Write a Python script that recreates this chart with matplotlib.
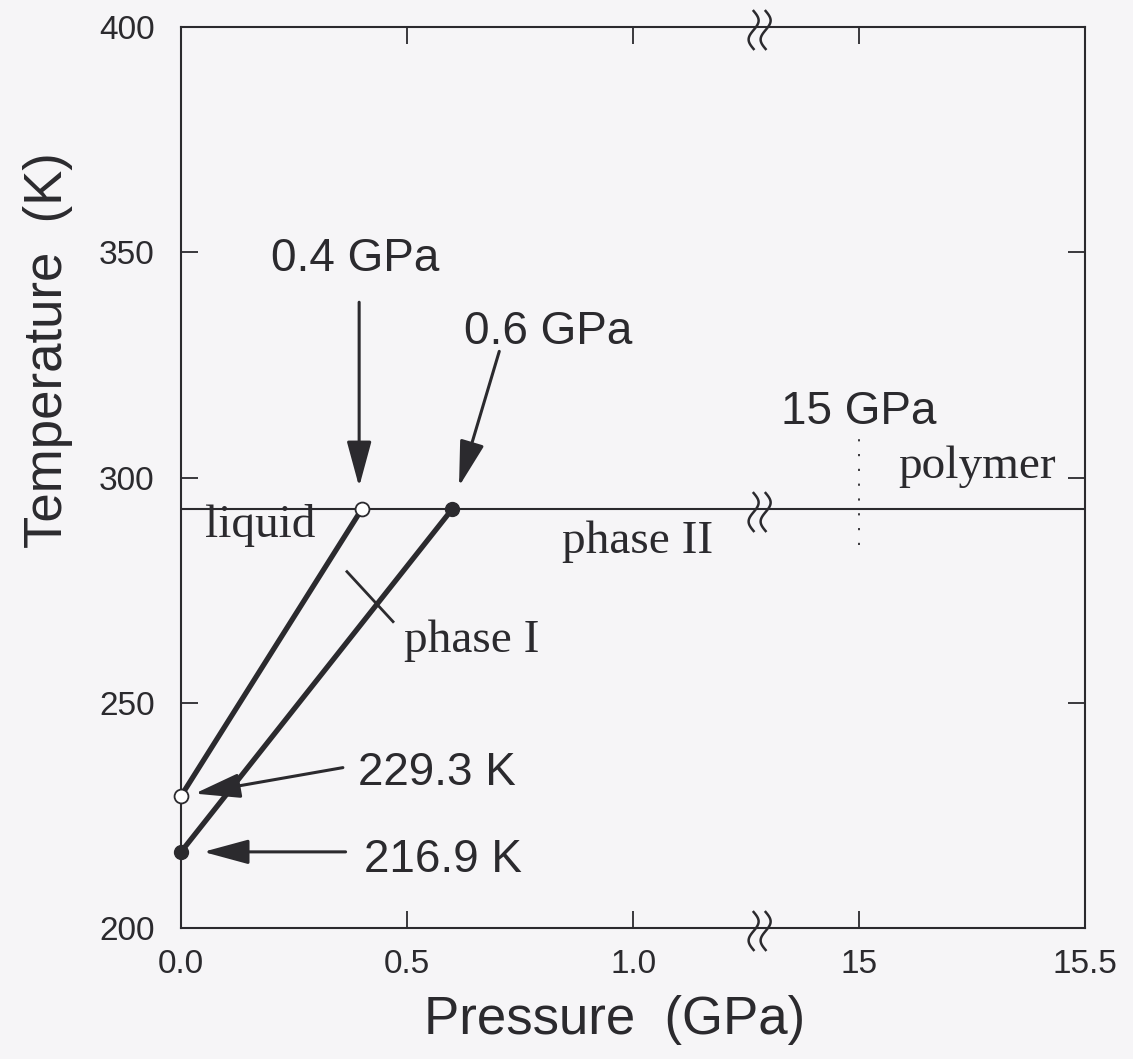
import numpy as np
import matplotlib
matplotlib.use("Agg")
import matplotlib.pyplot as plt
import matplotlib.transforms as mtransforms

# --- data (pressure in GPa, temperature in K) ---
p_liq = [0.0, 0.4]          # liquid / phase I boundary
t_liq = [229.3, 293.0]
p_solid = [0.0, 0.6]        # phase I / phase II boundary
t_solid = [216.9, 293.0]
t_room = 293.0              # horizontal line
p_poly = 15.0               # polymer transition
t_poly = [285.0, 309.6]
p_cross = [0.367, 0.469]    # small line across phase I region
t_cross = [279.1, 268.0]

break_lo, break_hi = 1.28, 14.78   # broken pressure axis
xtick_vals = [0.0, 0.5, 1.0, 15.0, 15.5]
xtick_labels = ["0.0", "0.5", "1.0", "15", "15.5"]
ytick_vals = [200, 250, 300, 350, 400]


def ax_x(p):
    p = np.asarray(p, dtype=float)
    return np.where(p <= break_lo, p, p - (break_hi - break_lo))


ink = "#2b2a2e"
sans = ["Liberation Sans", "DejaVu Sans"]
serif = ["Liberation Serif", "DejaVu Serif"]

fig = plt.figure(figsize=(11.33, 10.59), dpi=100, facecolor="#f6f5f7")
ax = fig.add_axes([0.1598, 0.1237, 0.7979, 0.8508])
ax.set_facecolor("#f6f5f7")

ax.set_xlim(0, float(ax_x(15.5)))
ax.set_ylim(200, 400)

for s in ax.spines.values():
    s.set_linewidth(1.5)
    s.set_color(ink)

ax.set_xticks(ax_x(xtick_vals))
ax.set_xticklabels(xtick_labels)
ax.set_yticks(ytick_vals)
ax.tick_params(direction="in", length=12, width=1.3, color=ink, labelcolor=ink,
               top=True, right=True, labelsize=24)
ax.tick_params(axis="y", pad=19)
ax.tick_params(axis="x", pad=15)
for lab in ax.get_xticklabels() + ax.get_yticklabels():
    lab.set_family(sans)

ax.set_xlabel("Pressure  (GPa)", family=sans, fontsize=38, color=ink)
ax.set_ylabel("Temperature  (K)", family=sans, fontsize=38, color=ink)
ax.xaxis.set_label_coords(0.48, -0.102)
ax.xaxis.label.set_va("center")
ax.yaxis.set_label_coords(-0.147, 0.6415)
ax.yaxis.label.set_va("center")

# horizontal line at room temperature
ax.axhline(t_room, color=ink, lw=1.5)

# phase boundaries
ax.plot(ax_x(p_liq), t_liq, color=ink, lw=3.8, solid_capstyle="butt")
ax.plot(ax_x(p_solid), t_solid, color=ink, lw=3.8, solid_capstyle="butt")
ax.plot(ax_x(p_liq), t_liq, "o", ms=10, mfc="white", mec=ink, mew=1.3,
        clip_on=False, zorder=5)
ax.plot(ax_x(p_solid), t_solid, "o", ms=10, mfc=ink, mec=ink,
        clip_on=False, zorder=5)
ax.plot(ax_x(p_cross), t_cross, color=ink, lw=2)
ax.plot(ax_x([p_poly, p_poly]), t_poly, color=ink, lw=1.3,
        linestyle=(0, (1.2, 7)))

# arrows
aprops = dict(arrowstyle="-|>,head_length=1.4,head_width=0.38", color=ink,
              lw=2.2, mutation_scale=20, shrinkA=0)
ax.annotate("", xy=(ax_x(p_liq[1]) - 0.006, t_liq[1]),
            xytext=(ax_x(p_liq[1]) - 0.006, 338.9),
            arrowprops=dict(aprops, shrinkB=16))
ax.annotate("", xy=(ax_x(p_solid[1]), t_solid[1]), xytext=(0.704, 328.0),
            arrowprops=dict(aprops, shrinkB=17))
ax.annotate("", xy=(ax_x(p_liq[0]), t_liq[0]), xytext=(0.358, 235.6),
            arrowprops=dict(aprops, shrinkB=10))
ax.annotate("", xy=(ax_x(p_solid[0]), t_solid[0]), xytext=(0.364, t_solid[0]),
            arrowprops=dict(aprops, shrinkB=16))

# labels
ax.text(0.198, 345.8, "0.4 GPa", family=sans, fontsize=33, color=ink)
ax.text(0.627, 329.6, "0.6 GPa", family=sans, fontsize=33, color=ink)
ax.text(1.327, 311.8, "15 GPa", family=sans, fontsize=33, color=ink)
ax.text(0.392, 231.8, "229.3 K", family=sans, fontsize=33, color=ink)
ax.text(0.405, 212.4, "216.9 K", family=sans, fontsize=33, color=ink)
ax.text(1.587, 300.0, "polymer", family=serif, fontsize=34, color=ink)
ax.text(0.053, 286.9, "liquid", family=serif, fontsize=34, color=ink)
ax.text(0.842, 283.3, "phase II", family=serif, fontsize=34, color=ink)
ax.text(0.493, 261.3, "phase I", family=serif, fontsize=34, color=ink)

# axis-break marks (two wavy strokes) on top/bottom spines and room-T line
s = np.linspace(-1, 1, 60)
wave_y = -0.03 - 0.19 * s
wave_x = -0.05 * np.sin(np.pi * s)
for yb in [200, t_room, 400]:
    tr = fig.dpi_scale_trans + mtransforms.ScaledTranslation(
        float(ax_x(break_lo)), yb, ax.transData)
    for dx in (-0.06, 0.06):
        ax.plot(wave_x + dx, wave_y, color=ink, lw=1.8, transform=tr,
                clip_on=False, zorder=6)

plt.savefig("out.png", dpi=100, facecolor=fig.get_facecolor())
